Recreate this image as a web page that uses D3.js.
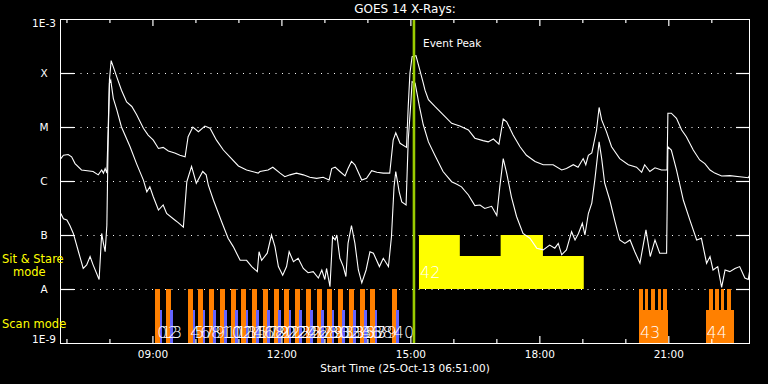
<!DOCTYPE html>
<html><head><meta charset="utf-8">
<script src="https://cdn.jsdelivr.net/npm/d3@7"></script>
<style>
html,body{margin:0;padding:0;background:#000;}
svg{display:block;}
text{font-family:"DejaVu Sans",sans-serif;}
</style></head>
<body>
<svg id="c" width="768" height="384"></svg>
<script>
// ---------------- DATA ----------------
const title = "GOES 14 X-Rays:";
const xLabel = "Start Time (25-Oct-13 06:51:00)";
const timeStart = "06:51", timeEnd = "22:54";
const majorTicks = ["09:00","12:00","15:00","18:00","21:00"];
const minorTicks = ["07:00","08:00","10:00","11:00","13:00","14:00","16:00","17:00","19:00","20:00","22:00"];
const yTickValues = [1e-3,1e-4,1e-5,1e-6,1e-7,1e-8,1e-9];
const yTickLabels = ["1E-3","X","M","C","B","A","1E-9"];
const gridValues = [1e-4,1e-5,1e-6,1e-7,1e-8];
const eventPeak = "15:05";

// GOES long channel (1-8 A) [hour UT, W/m^2]
const goesLong = [[6.87,2.6e-6],[6.93,3.0e-6],[7.04,3.1e-6],[7.12,2.8e-6],[7.20,2.1e-6],[7.35,1.6e-6],[7.62,1.5e-6],[7.74,1.3e-6],[7.82,1.6e-6],[7.86,1.4e-6],[7.90,1.7e-6],[7.94,1.4e-6],[7.97,8.8e-6],[8.00,7.4e-5],[8.04,1.7e-4],[8.09,1.3e-4],[8.17,8.5e-5],[8.28,4.8e-5],[8.40,2.9e-5],[8.52,2.4e-5],[8.63,1.7e-5],[8.79,9.5e-6],[8.90,7.1e-6],[9.02,5.7e-6],[9.14,4.0e-6],[9.25,4.2e-6],[9.37,3.6e-6],[9.52,3.3e-6],[9.64,3.0e-6],[9.76,2.8e-6],[9.83,6.6e-6],[9.94,1.0e-5],[10.07,8.2e-6],[10.22,1.04e-5],[10.34,9.5e-6],[10.49,5.7e-6],[10.65,3.75e-6],[10.80,2.8e-6],[11.00,1.9e-6],[11.19,1.6e-6],[11.46,1.4e-6],[11.50,1.5e-6],[11.69,1.6e-6],[11.80,1.8e-6],[11.97,1.4e-6],[12.08,1.2e-6],[12.20,1.3e-6],[12.35,1.4e-6],[12.51,1.3e-6],[12.66,1.17e-6],[12.82,1.12e-6],[12.97,1.17e-6],[13.11,1.04e-6],[13.17,1.7e-6],[13.25,1.8e-6],[13.36,1.5e-6],[13.48,1.24e-6],[13.55,1.7e-6],[13.63,2.3e-6],[13.71,2.0e-6],[13.87,1.04e-6],[13.98,1.12e-6],[14.10,1.55e-6],[14.22,1.45e-6],[14.37,1.4e-6],[14.52,1.4e-6],[14.60,5.7e-6],[14.66,7.8e-6],[14.76,5.0e-6],[14.91,4.2e-6],[14.95,2.4e-5],[14.99,1.0e-4],[15.04,2.0e-4],[15.13,2.1e-4],[15.22,1.13e-4],[15.30,6.5e-5],[15.34,4.8e-5],[15.42,3.2e-5],[15.57,2.4e-5],[15.76,1.7e-5],[15.96,1.17e-5],[16.15,1.04e-5],[16.35,8.8e-6],[16.50,6.2e-6],[16.69,5.6e-6],[16.81,5.3e-6],[16.93,6.0e-6],[17.06,4.8e-6],[17.16,1.4e-5],[17.24,1.25e-5],[17.39,7.1e-6],[17.55,4.3e-6],[17.70,3.0e-6],[17.90,2.3e-6],[18.09,2.0e-6],[18.32,2.0e-6],[18.52,1.6e-6],[18.63,1.7e-6],[18.79,2.0e-6],[18.90,1.8e-6],[19.02,2.6e-6],[19.08,2.0e-6],[19.14,3.0e-6],[19.22,3.3e-6],[19.25,4.3e-6],[19.33,8.8e-6],[19.39,2.3e-5],[19.45,1.35e-5],[19.56,8.2e-6],[19.68,4.3e-6],[19.87,2.6e-6],[20.07,2.0e-6],[20.26,1.8e-6],[20.38,1.45e-6],[20.45,2.0e-6],[20.57,1.5e-6],[20.69,1.76e-6],[20.84,1.6e-6],[20.97,1.6e-6],[20.99,1.8e-5],[21.07,1.8e-5],[21.19,1.45e-5],[21.31,8.8e-6],[21.42,6.6e-6],[21.58,3.75e-6],[21.73,2.45e-6],[21.85,2.1e-6],[21.97,1.6e-6],[22.08,1.4e-6],[22.24,1.24e-6],[22.43,1.26e-6],[22.66,1.2e-6],[22.86,1.15e-6],[22.90,1.3e-6]];

// GOES short channel (0.5-4 A) [hour UT, W/m^2]
const goesShort = [[6.87,2.5e-7],[6.93,2.0e-7],[7.01,1.9e-7],[7.08,1.5e-7],[7.16,1.07e-7],[7.28,4.9e-8],[7.39,2.4e-8],[7.47,2.8e-8],[7.55,4.0e-8],[7.62,2.8e-8],[7.76,1.5e-8],[7.82,1.07e-7],[7.86,7.0e-8],[7.90,4.9e-8],[7.94,1.5e-7],[7.97,5.7e-6],[8.00,6.5e-5],[8.03,7.4e-5],[8.09,3.4e-5],[8.17,2.1e-5],[8.28,1.0e-5],[8.48,4.3e-6],[8.63,2.1e-6],[8.79,1.04e-6],[8.87,6.3e-7],[8.94,7.8e-7],[9.02,5.1e-7],[9.14,2.9e-7],[9.25,3.6e-7],[9.33,2.5e-7],[9.52,1.9e-7],[9.60,1.7e-7],[9.72,1.4e-7],[9.80,9.7e-7],[9.91,1.86e-6],[10.02,9.1e-7],[10.17,1.5e-6],[10.25,1.3e-6],[10.30,8.4e-7],[10.42,4.4e-7],[10.61,1.76e-7],[10.76,8.7e-8],[10.88,6.1e-8],[11.04,3.4e-8],[11.19,3.4e-8],[11.31,2.6e-8],[11.44,2.1e-8],[11.48,4.9e-8],[11.54,3.4e-8],[11.67,4.6e-8],[11.77,1.0e-7],[11.85,6.1e-8],[11.93,2.6e-8],[12.03,1.8e-8],[12.12,2.6e-8],[12.18,4.9e-8],[12.28,3.2e-8],[12.39,3.7e-8],[12.51,2.4e-8],[12.62,2.0e-8],[12.74,2.1e-8],[12.86,1.6e-8],[12.94,2.25e-8],[13.01,1.5e-8],[13.05,2.4e-8],[13.13,1.1e-8],[13.19,9.3e-8],[13.25,8.1e-8],[13.29,1.0e-7],[13.36,3.7e-8],[13.44,2.6e-8],[13.50,1.7e-8],[13.55,7.0e-8],[13.63,1.5e-7],[13.71,7.0e-8],[13.79,2.25e-8],[13.87,1.3e-8],[13.97,2.25e-8],[14.06,4.9e-8],[14.14,4.6e-8],[14.28,2.6e-8],[14.37,3.7e-8],[14.49,2.6e-8],[14.56,9.3e-8],[14.62,7.8e-7],[14.66,1.5e-6],[14.74,6.3e-7],[14.80,4.1e-7],[14.90,3.6e-7],[14.95,5.7e-6],[15.01,2.75e-5],[15.04,6.9e-5],[15.11,6.5e-5],[15.21,2.4e-5],[15.30,1.1e-5],[15.42,5.3e-6],[15.57,3.0e-6],[15.76,1.5e-6],[15.96,9.7e-7],[16.07,8.8e-7],[16.19,7.8e-7],[16.35,5.5e-7],[16.50,3.5e-7],[16.62,3.6e-7],[16.73,3.1e-7],[16.89,3.4e-7],[17.01,2.3e-7],[17.08,7.8e-7],[17.16,2.6e-6],[17.24,1.4e-6],[17.35,5.1e-7],[17.47,2.2e-7],[17.62,1.07e-7],[17.78,8.7e-8],[17.94,5.7e-8],[18.09,5.3e-8],[18.24,6.5e-8],[18.36,5.7e-8],[18.44,7.0e-8],[18.52,4.3e-8],[18.63,5.3e-8],[18.75,1.15e-7],[18.83,8.1e-8],[18.91,1.07e-7],[19.00,1.65e-7],[19.06,1.0e-7],[19.14,2.5e-7],[19.22,3.9e-7],[19.29,1.04e-6],[19.39,5.3e-6],[19.45,2.6e-6],[19.52,9.1e-7],[19.64,4.4e-7],[19.76,1.76e-7],[19.87,8.1e-8],[19.99,7.0e-8],[20.11,8.1e-8],[20.22,4.9e-8],[20.34,3.0e-8],[20.48,1.24e-7],[20.58,4.0e-8],[20.69,8.1e-8],[20.80,4.6e-8],[20.96,4.6e-8],[20.99,4.3e-6],[21.07,3.75e-6],[21.19,1.6e-6],[21.35,4.4e-7],[21.50,1.9e-7],[21.66,8.1e-8],[21.77,8.7e-8],[21.89,3.0e-8],[21.97,4.0e-8],[22.04,2.25e-8],[22.15,2.6e-8],[22.24,1.07e-8],[22.32,2.25e-8],[22.43,2.1e-8],[22.55,2.4e-8],[22.66,2.6e-8],[22.78,1.6e-8],[22.86,1.5e-8],[22.90,2.4e-8]];

// Scan-mode observations (start times) and their ids
const scanStarts = ["09:04","09:19","09:50","10:04","10:19","10:34","10:49","11:04","11:19","11:34","11:49","12:04","12:19","12:34","12:49","13:04","13:19","13:34","13:49","14:04","14:34"];
const scanIds = d3.range(0, 41).map(String);
// Sit & stare observation (id 42): step edges and levels
const stareEdges = ["15:12","16:09","17:06","18:05","19:02"];
const stareLevels = [1e-7, 4.1e-8, 1e-7, 4.1e-8];
const stareId = "42";
// Later scan blocks
const blockIds = ["43","44"];
const blockSpans = [["20:19","20:59"],["21:52","22:31"]];
const blockTeeth = [["20:19","20:27","20:36","20:45","20:53"],["21:57","22:05","22:13","22:22"]];

// ---------------- DRAW ----------------
const toH = s => { const [h,m] = s.split(":").map(Number); return h + m/60; };
const L = 60, R = 750, T = 19, B = 343;
const x = d3.scaleLinear().domain([toH(timeStart), toH(timeEnd)]).range([L, R]);
const y = d3.scaleLog().domain([1e-9, 1e-3]).range([B, T]);
const minH = m => m/60;

const svg = d3.select("#c");
svg.append("rect").attr("width",768).attr("height",384).attr("fill","#000");

const ORANGE = "#ff8000", BLUE = "#6464ff", YELLOW = "#ffff00", GREEN = "#99cc00";

// grid lines (dotted)
svg.append("g").selectAll("line").data(gridValues).join("line")
  .attr("x1", L+14).attr("x2", R-14)
  .attr("y1", d => Math.round(y(d))+0.5).attr("y2", d => Math.round(y(d))+0.5)
  .attr("stroke","#fff").attr("stroke-width",1).attr("stroke-dasharray","1 5.5");

// scan bars
const bandTop = y(1e-8), bandBot = y(1e-9), blueTop = bandTop + 21;
const scanG = svg.append("g").attr("shape-rendering","crispEdges");
scanG.selectAll("rect.o").data(scanStarts).join("rect").attr("class","o")
  .attr("x", d => x(toH(d))).attr("width", d => x(toH(d)+minH(7)) - x(toH(d)))
  .attr("y", bandTop).attr("height", bandBot - bandTop).attr("fill", ORANGE);
scanG.selectAll("rect.b").data(scanStarts).join("rect").attr("class","b")
  .attr("x", d => x(toH(d)+minH(6))).attr("width", d => x(toH(d)+minH(9.8)) - x(toH(d)+minH(6)))
  .attr("y", blueTop).attr("height", bandBot - blueTop).attr("fill", BLUE);

// later blocks
blockSpans.forEach((sp, i) => {
  const g = svg.append("g").attr("shape-rendering","crispEdges");
  g.append("rect").attr("x", x(toH(sp[0]))).attr("width", x(toH(sp[1])) - x(toH(sp[0])))
    .attr("y", blueTop).attr("height", bandBot - blueTop).attr("fill", ORANGE);
  g.selectAll("rect.t").data(blockTeeth[i]).join("rect").attr("class","t")
    .attr("x", d => x(toH(d))).attr("width", d => x(toH(d)+minH(5.2)) - x(toH(d)))
    .attr("y", bandTop).attr("height", blueTop - bandTop + 1).attr("fill", ORANGE);
});

// sit & stare steps (single stepped area)
const stareData = stareLevels.map((v,i) => [toH(stareEdges[i]), v]).concat([[toH(stareEdges[stareEdges.length-1]), stareLevels[stareLevels.length-1]]]);
const stareArea = d3.area().curve(d3.curveStepAfter)
  .x(d => x(d[0])).y0(bandTop).y1(d => y(d[1]));
svg.append("path").datum(stareData).attr("d", stareArea).attr("fill", YELLOW);

// id labels
const idFont = 16;
svg.append("g").selectAll("text").data(scanIds).join("text")
  .attr("x", (d,i) => x(toH(scanStarts[Math.floor(i/2)])) + (i%2 ? 6 : 2))
  .attr("y", 338).attr("fill","#fff").attr("font-size", idFont).attr("font-weight",200).text(d => d);
svg.append("text").attr("x", x(toH(stareEdges[0])) + 1).attr("y", 278)
  .attr("fill","#fff").attr("font-size", idFont).attr("font-weight",200).text(stareId);
svg.append("g").selectAll("text").data(blockIds).join("text")
  .attr("x", (d,i) => x(toH(blockSpans[i][0])) + 1).attr("y", 338)
  .attr("fill","#fff").attr("font-size", idFont).attr("font-weight",200).text(d => d);

// curves
const line = d3.line().x(d => x(d[0])).y(d => y(d[1]));
svg.append("defs").append("clipPath").attr("id","clip").append("rect")
  .attr("x",L).attr("y",T).attr("width",R-L).attr("height",B-T);
[goesLong, goesShort].forEach(s => {
  svg.append("path").datum(s).attr("d", line).attr("fill","none")
    .attr("stroke","#fff").attr("stroke-width",1.1).attr("clip-path","url(#clip)");
});

// event peak line
svg.append("line").attr("x1", x(toH(eventPeak))).attr("x2", x(toH(eventPeak)))
  .attr("y1", T).attr("y2", B).attr("stroke", GREEN).attr("stroke-width", 2.6);
svg.append("text").attr("x", 423).attr("y", 47).attr("fill","#fff").attr("font-size",10.5).text("Event Peak");

// frame
svg.append("rect").attr("x",L+0.5).attr("y",T+0.5).attr("width",R-L-1).attr("height",B-T)
  .attr("fill","none").attr("stroke","#fff").attr("stroke-width",1.2).attr("shape-rendering","crispEdges");

// left/right decade ticks
svg.append("g").selectAll("line").data(gridValues).join("line")
  .attr("x1", L).attr("x2", L+14).attr("y1", d => Math.round(y(d))+0.5).attr("y2", d => Math.round(y(d))+0.5)
  .attr("stroke","#fff").attr("stroke-width",1.2);
svg.append("g").selectAll("line").data(gridValues).join("line")
  .attr("x1", R-14).attr("x2", R).attr("y1", d => Math.round(y(d))+0.5).attr("y2", d => Math.round(y(d))+0.5)
  .attr("stroke","#fff").attr("stroke-width",1.2);

// y labels
svg.append("g").selectAll("text").data(yTickValues).join("text")
  .attr("x", 44).attr("text-anchor","middle")
  .attr("y", (d,i) => y(d) + (i===0 ? 8 : i===6 ? 0 : 4))
  .attr("fill","#fff").attr("font-size",10.5).text((d,i) => yTickLabels[i]);

// x axes (bottom with labels, top mirrored)
const bottomMajor = d3.axisBottom(x).tickValues(majorTicks.map(toH)).tickSize(-7).tickPadding(8)
  .tickFormat((d,i) => majorTicks[i]);
const gB = svg.append("g").attr("transform",`translate(0,${B})`).call(bottomMajor);
const bottomMinor = d3.axisBottom(x).tickValues(minorTicks.map(toH)).tickSize(-4).tickFormat("");
const gB2 = svg.append("g").attr("transform",`translate(0,${B})`).call(bottomMinor);
const topMajor = d3.axisTop(x).tickValues(majorTicks.map(toH)).tickSize(-7).tickFormat("");
const gT = svg.append("g").attr("transform",`translate(0,${T})`).call(topMajor);
const topMinor = d3.axisTop(x).tickValues(minorTicks.map(toH)).tickSize(-4).tickFormat("");
const gT2 = svg.append("g").attr("transform",`translate(0,${T})`).call(topMinor);
[gB,gB2,gT,gT2].forEach(g => {
  g.select(".domain").remove();
  g.selectAll("line").attr("stroke","#fff").attr("stroke-width",1.2);
  g.selectAll("text").attr("fill","#fff").attr("font-size",10.5).attr("font-family","DejaVu Sans");
});

// titles
svg.append("text").attr("x",(L+R)/2).attr("y",13).attr("text-anchor","middle")
  .attr("fill","#fff").attr("font-size",12).text(title);
svg.append("text").attr("x",(L+R)/2).attr("y",372).attr("text-anchor","middle")
  .attr("fill","#fff").attr("font-size",10.5).text(xLabel);

// mode labels
svg.append("text").attr("x",2).attr("y",263).attr("fill",YELLOW).attr("font-size",11.5).text("Sit & Stare");
svg.append("text").attr("x",13).attr("y",276).attr("fill",YELLOW).attr("font-size",11.5).text("mode");
svg.append("text").attr("x",2).attr("y",328).attr("fill",YELLOW).attr("font-size",11.5).text("Scan mode");
</script>
</body></html>
